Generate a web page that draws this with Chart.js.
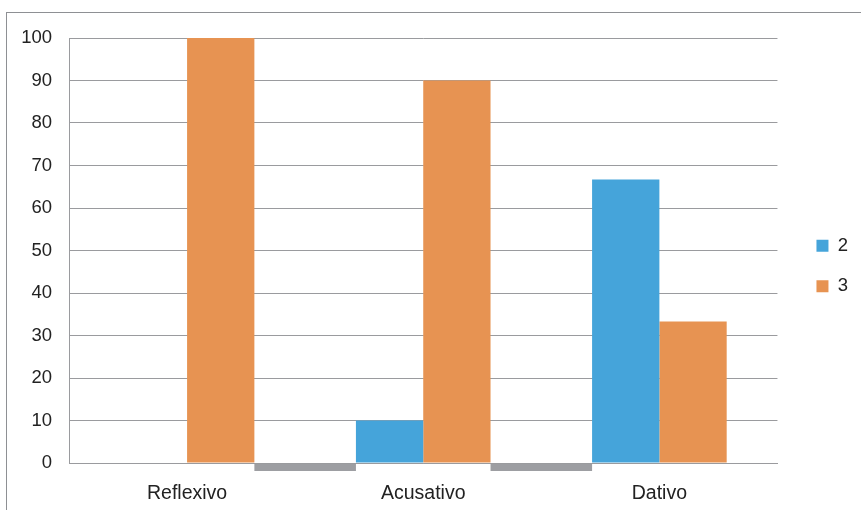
<!DOCTYPE html>
<html>
<head>
<meta charset="utf-8">
<script src="https://cdn.jsdelivr.net/npm/chart.js@4.4.0/dist/chart.umd.min.js"></script>
<style>
  html, body { margin: 0; padding: 0; background: #fff; overflow: hidden; }
  #wrap { position: relative; width: 861px; height: 510px; }
  #frame { position: absolute; left: 6px; top: 12px; width: 900px; height: 600px; border: 1px solid #8e9094; box-sizing: border-box; }
  canvas { position: absolute; left: 0; top: 0; }
</style>
</head>
<body>
<div id="wrap">
  <div id="frame"></div>
  <canvas id="myChart" width="861" height="510"></canvas>
</div>
<script>
const categories = ['Reflexivo', 'Acusativo', 'Dativo'];
const seriesNames = ['2', '3'];
const values2 = [0, 10, 66.7];
const values3 = [100, 90, 33.3];
const yTicks = [0, 10, 20, 30, 40, 50, 60, 70, 80, 90, 100];

const textColor = '#222222';
const gridColor = '#9a9b9e';

// gray strips under the axis between the groups, as seen in the original
const gapStrips = {
  id: 'gapStrips',
  afterDatasetsDraw(chart) {
    const a = chart.getDatasetMeta(0).data;
    const b = chart.getDatasetMeta(1).data;
    const y = chart.scales.y.getPixelForValue(0);
    const ctx = chart.ctx;
    ctx.save();
    ctx.fillStyle = '#9d9ea2';
    for (let i = 0; i < categories.length - 1; i++) {
      const x1 = b[i].x + b[i].width / 2;
      const x2 = a[i + 1].x - a[i + 1].width / 2;
      ctx.fillRect(x1, y + 1, x2 - x1, 7);
    }
    ctx.restore();
  }
};

// nudge the legend a bit right and up
const legendShift = {
  id: 'legendShift',
  afterLayout(chart) {
    const l = chart.legend;
    l.left += 17; l.right += 17;
    l.top -= 8; l.bottom -= 8;
  }
};

Chart.defaults.font.family = '"Liberation Sans", Arial, sans-serif';
Chart.defaults.color = textColor;

new Chart(document.getElementById('myChart'), {
  type: 'bar',
  data: {
    labels: categories,
    datasets: [
      { label: seriesNames[0], data: values2, backgroundColor: '#45a4da', borderWidth: 0 },
      { label: seriesNames[1], data: values3, backgroundColor: '#e79352', borderWidth: 0 }
    ]
  },
  options: {
    responsive: false,
    animation: false,
    categoryPercentage: 0.57,
    barPercentage: 1,
    layout: { padding: { top: 38, left: 0, right: 20, bottom: 0 } },
    plugins: {
      tooltip: { enabled: false },
      legend: {
        position: 'right',
        align: 'center',
        labels: {
          boxWidth: 12,
          boxHeight: 12,
          padding: 22,
          font: { size: 18.5 },
          color: textColor
        }
      }
    },
    scales: {
      x: {
        grid: { display: false, drawTicks: false },
        border: { display: true, color: gridColor, width: 1 },
        ticks: { font: { size: 19.5 }, padding: 19, color: textColor },
        afterFit(s) { s.height = 47; }
      },
      y: {
        min: 0,
        max: 100,
        afterBuildTicks(s) { s.ticks = yTicks.map(v => ({ value: v })); },
        grid: { color: gridColor, lineWidth: 1, drawTicks: false },
        border: { display: true, color: gridColor, width: 1 },
        ticks: { font: { size: 18.5 }, padding: 17, color: textColor },
        afterFit(s) { s.width = 69; }
      }
    }
  },
  plugins: [gapStrips, legendShift]
});
</script>
</body>
</html>
